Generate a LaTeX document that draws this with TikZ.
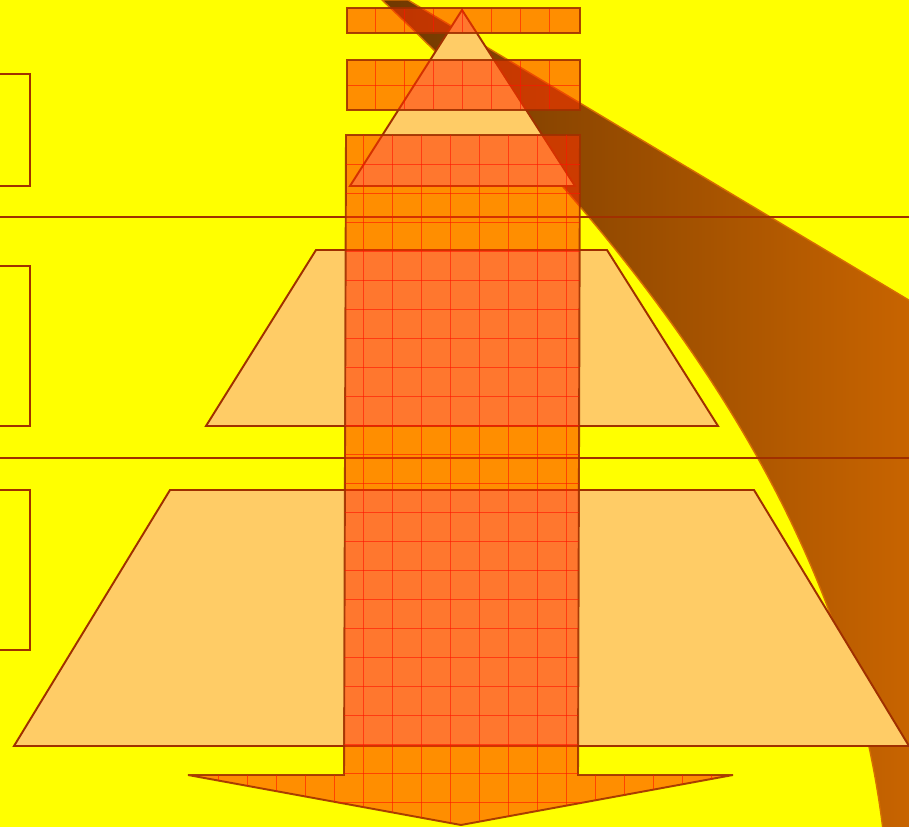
\documentclass[tikz,border=0pt]{standalone}
\usepackage{xcolor}
\usepackage{tikz}
\usetikzlibrary{positioning}
\definecolor{fundo}{RGB}{255,255,0}
\definecolor{borda}{RGB}{160,48,0}
\definecolor{areia}{RGB}{255,204,102}
\definecolor{brasa}{RGB}{255,50,0}
\definecolor{grade}{RGB}{255,20,0}
\definecolor{sombraA}{RGB}{112,56,0}
\definecolor{sombraB}{RGB}{200,100,0}
\definecolor{sombraC}{RGB}{214,110,0}

\tikzset{
  traco/.style={draw=borda, line width=1.1pt},
  degrau/.style={traco, fill=areia},
  brasas/.style={fill=brasa, fill opacity=0.55, draw=borda, draw opacity=0.9, line width=1.1pt},
  fio/.style={grade, line width=0.5pt, opacity=0.6}
}

\begin{document}
\begin{tikzpicture}[x=0.02cm, y=-0.02cm]
  \useasboundingbox (0,0) rectangle (909,827);
  \fill[fundo] (0,0) rectangle (909,827);
  \clip (0,0) rectangle (909,827);
  % caixas da esquerda
  \draw[traco] (-5,74) rectangle (30,186);
  \draw[traco] (-5,266) rectangle (30,426);
  \draw[traco] (-5,490) rectangle (30,650);
  % sombra
  \shade[left color=sombraA, right color=sombraB, draw=sombraC, line width=0.8pt]
    (382,0) -- (408,0) -- (912,302) -- (912,830) -- (883,830)
    .. controls (850,560) and (700,300) .. (382,0) -- cycle;
  % linhas divis\'orias
  \draw[traco] (-5,217) -- (915,217);
  \draw[traco] (-5,458) -- (915,458);
  % degraus
  \draw[degrau] (316,250) -- (607,250) -- (718,426) -- (206,426) -- cycle;
  \draw[degrau] (170,490) -- (754,490) -- (909,746) -- (14,746) -- cycle;
  \draw[degrau] (462,10) -- (575,186) -- (350,186) -- cycle;
  % seta
  \draw[brasas] (346,135) -- (580,135) -- (578,775) -- (733,775) -- (461,825)
    -- (188,775) -- (344,775) -- cycle;
  \begin{scope}
    \clip (346,135) -- (580,135) -- (578,775) -- (733,775) -- (461,825)
      -- (188,775) -- (344,775) -- cycle;
    \foreach \k in {0,...,19}
      \draw[fio] (189+29*\k,130) -- (189+29*\k,830);
    \foreach \k in {1,...,24}
      \draw[fio] (180,135+29*\k) -- (740,135+29*\k);
  \end{scope}
  % faixas do topo
  \draw[brasas] (347,8) rectangle (580,33);
  \draw[brasas] (347,60) rectangle (580,110);
  \foreach \k in {1,...,7} {
    \draw[fio] (346+29*\k,9) -- (346+29*\k,32);
    \draw[fio] (346+29*\k,61) -- (346+29*\k,109);
  }
  \draw[fio] (348,85) -- (579,85);
\end{tikzpicture}
\end{document}
